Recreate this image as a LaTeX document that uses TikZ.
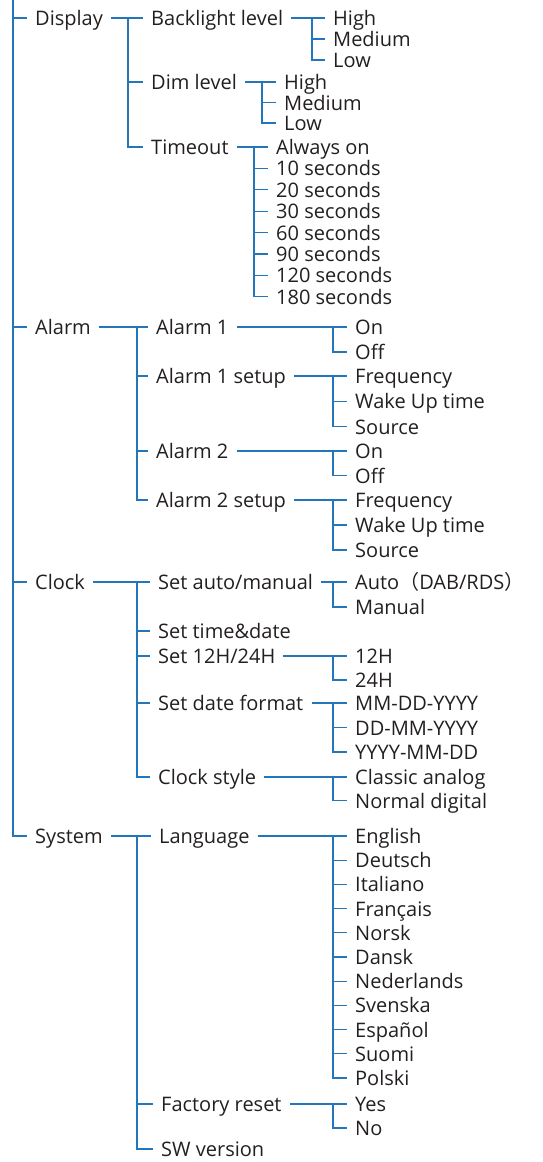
\documentclass[tikz,border=0pt]{standalone}
\usepackage{fontspec}
\setmainfont{Open Sans}
\newfontfamily\cjk{Noto Sans CJK SC}
\definecolor{menublue}{RGB}{35,118,185}
\definecolor{menutext}{RGB}{35,31,32}
\tikzstyle{item} = [anchor=west, inner xsep=8pt, inner ysep=0pt, text height=15pt, text depth=0pt, text=menutext, font=\fontsize{20}{23}\selectfont]
\tikzstyle{line} = [draw, menublue, line width=1.3pt]

\begin{document}
\begin{tikzpicture}[x=1pt, y=-1pt]
    \useasboundingbox (0,0) rectangle (542,1162);
    \coordinate (root) at (13,-2);

    % main menu
    \node [item] (display) at (27,18) {Display};
    \node [item] (alarm) at (27,327) {Alarm};
    \node [item] (clock) at (27,582) {Clock};
    \node [item] (system) at (27,836) {System};

    % display
    \node [item] (backlight) at (143,18) {Backlight level};
    \node [item] (dim) at (143,82) {Dim level};
    \node [item] (timeout) at (143,147) {Timeout};
    \node [item] (bl1) at (325,18) {High};
    \node [item] (bl2) at ([yshift=-21pt]bl1.west) {Medium};
    \node [item] (bl3) at ([yshift=-21pt]bl2.west) {Low};
    \node [item] (dl1) at (276,82) {High};
    \node [item] (dl2) at ([yshift=-20.5pt]dl1.west) {Medium};
    \node [item] (dl3) at ([yshift=-20.5pt]dl2.west) {Low};
    \node [item] (to1) at (268,147) {Always on};
    \node [item] (to2) at ([yshift=-21.4pt]to1.west) {10 seconds};
    \node [item] (to3) at ([yshift=-21.4pt]to2.west) {20 seconds};
    \node [item] (to4) at ([yshift=-21.4pt]to3.west) {30 seconds};
    \node [item] (to5) at ([yshift=-21.4pt]to4.west) {60 seconds};
    \node [item] (to6) at ([yshift=-21.4pt]to5.west) {90 seconds};
    \node [item] (to7) at ([yshift=-21.4pt]to6.west) {120 seconds};
    \node [item] (to8) at ([yshift=-21.4pt]to7.west) {180 seconds};

    % alarm
    \node [item] (alarm1) at (148,327) {Alarm 1};
    \node [item] (setup1) at (148,376) {Alarm 1 setup};
    \node [item] (alarm2) at (148,451) {Alarm 2};
    \node [item] (setup2) at (148,500) {Alarm 2 setup};
    \node [item] (on1) at (347,327) {On};
    \node [item] (off1) at ([yshift=-25pt]on1.west) {Off};
    \node [item] (freq1) at (347,376) {Frequency};
    \node [item] (wake1) at ([yshift=-25.3pt]freq1.west) {Wake Up time};
    \node [item] (src1) at ([yshift=-25.3pt]wake1.west) {Source};
    \node [item] (on2) at (347,451) {On};
    \node [item] (off2) at ([yshift=-24.5pt]on2.west) {Off};
    \node [item] (freq2) at (347,500) {Frequency};
    \node [item] (wake2) at ([yshift=-25pt]freq2.west) {Wake Up time};
    \node [item] (src2) at ([yshift=-25pt]wake2.west) {Source};

    % clock
    \node [item] (automan) at (150,582) {Set auto/manual};
    \node [item] (timedate) at (150,631) {Set time\&date};
    \node [item] (hours) at (150,656) {Set 12H/24H};
    \node [item] (datefmt) at (150,703) {Set date format};
    \node [item] (style) at (150,777) {Clock style};
    \node [item] (auto) at (347,582) {Auto{\cjk （}DAB/RDS{\cjk ）}};
    \node [item] (manual) at ([yshift=-25pt]auto.west) {Manual};
    \node [item] (h12) at (347,656) {12H};
    \node [item] (h24) at ([yshift=-24pt]h12.west) {24H};
    \node [item] (df1) at (347,703) {MM-DD-YYYY};
    \node [item] (df2) at ([yshift=-24.5pt]df1.west) {DD-MM-YYYY};
    \node [item] (df3) at ([yshift=-24.5pt]df2.west) {YYYY-MM-DD};
    \node [item] (analog) at (347,777) {Classic analog};
    \node [item] (digital) at ([yshift=-23.5pt]analog.west) {Normal digital};

    % system
    \node [item] (language) at (151,836) {Language};
    \node [item] (reset) at (153,1104) {Factory reset};
    \node [item] (version) at (153,1149) {SW version};
    \node [item] (la1) at (347,836) {English};
    \node [item] (la2) at ([yshift=-24.2pt]la1.west) {Deutsch};
    \node [item] (la3) at ([yshift=-24.2pt]la2.west) {Italiano};
    \node [item] (la4) at ([yshift=-24.2pt]la3.west) {Français};
    \node [item] (la5) at ([yshift=-24.2pt]la4.west) {Norsk};
    \node [item] (la6) at ([yshift=-24.2pt]la5.west) {Dansk};
    \node [item] (la7) at ([yshift=-24.2pt]la6.west) {Nederlands};
    \node [item] (la8) at ([yshift=-24.2pt]la7.west) {Svenska};
    \node [item] (la9) at ([yshift=-24.2pt]la8.west) {Español};
    \node [item] (la10) at ([yshift=-24.2pt]la9.west) {Suomi};
    \node [item] (la11) at ([yshift=-24.2pt]la10.west) {Polski};
    \node [item] (yes) at (347,1104) {Yes};
    \node [item] (no) at ([yshift=-24pt]yes.west) {No};

    % branch points
    \coordinate (dispbr) at (128,18);
    \coordinate (blbr) at (312,18);
    \coordinate (dlbr) at (262,82);
    \coordinate (tobr) at (254,147);
    \coordinate (alarmbr) at (137,327);
    \coordinate (a1br) at (333,327);
    \coordinate (s1br) at (333,376);
    \coordinate (a2br) at (333,451);
    \coordinate (s2br) at (333,500);
    \coordinate (clockbr) at (137,582);
    \coordinate (ambr) at (333,582);
    \coordinate (hbr) at (333,656);
    \coordinate (dfbr) at (333,703);
    \coordinate (stbr) at (333,777);
    \coordinate (sysbr) at (137,836);
    \coordinate (labr) at (333,836);
    \coordinate (rsbr) at (333,1104);

    \path [line] (root) |- (display.west) (root) |- (alarm.west) (root) |- (clock.west) (root) |- (system.west);

    \path [line] (display.east) -- (dispbr) |- (backlight.west) (dispbr) |- (dim.west) (dispbr) |- (timeout.west);
    \path [line] (backlight.east) -- (blbr) |- (bl1.west) (blbr) |- (bl2.west) (blbr) |- (bl3.west);
    \path [line] (dim.east) -- (dlbr) |- (dl1.west) (dlbr) |- (dl2.west) (dlbr) |- (dl3.west);
    \path [line] (timeout.east) -- (tobr) |- (to1.west);
    \foreach \i in {2,...,8} \path [line] (tobr) |- (to\i.west);

    \path [line] (alarm.east) -- (alarmbr) |- (alarm1.west) (alarmbr) |- (setup1.west) (alarmbr) |- (alarm2.west) (alarmbr) |- (setup2.west);
    \path [line] (alarm1.east) -- (a1br) |- (on1.west) (a1br) |- (off1.west);
    \path [line] (setup1.east) -- (s1br) |- (freq1.west) (s1br) |- (wake1.west) (s1br) |- (src1.west);
    \path [line] (alarm2.east) -- (a2br) |- (on2.west) (a2br) |- (off2.west);
    \path [line] (setup2.east) -- (s2br) |- (freq2.west) (s2br) |- (wake2.west) (s2br) |- (src2.west);

    \path [line] (clock.east) -- (clockbr) |- (automan.west) (clockbr) |- (timedate.west) (clockbr) |- (hours.west) (clockbr) |- (datefmt.west) (clockbr) |- (style.west);
    \path [line] (automan.east) -- (ambr) |- (auto.west) (ambr) |- (manual.west);
    \path [line] (hours.east) -- (hbr) |- (h12.west) (hbr) |- (h24.west);
    \path [line] (datefmt.east) -- (dfbr) |- (df1.west) (dfbr) |- (df2.west) (dfbr) |- (df3.west);
    \path [line] (style.east) -- (stbr) |- (analog.west) (stbr) |- (digital.west);

    \path [line] (system.east) -- (sysbr) |- (language.west) (sysbr) |- (reset.west) (sysbr) |- (version.west);
    \path [line] (language.east) -- (labr) |- (la1.west);
    \foreach \i in {2,...,11} \path [line] (labr) |- (la\i.west);
    \path [line] (reset.east) -- (rsbr) |- (yes.west) (rsbr) |- (no.west);

\end{tikzpicture}
\end{document}
